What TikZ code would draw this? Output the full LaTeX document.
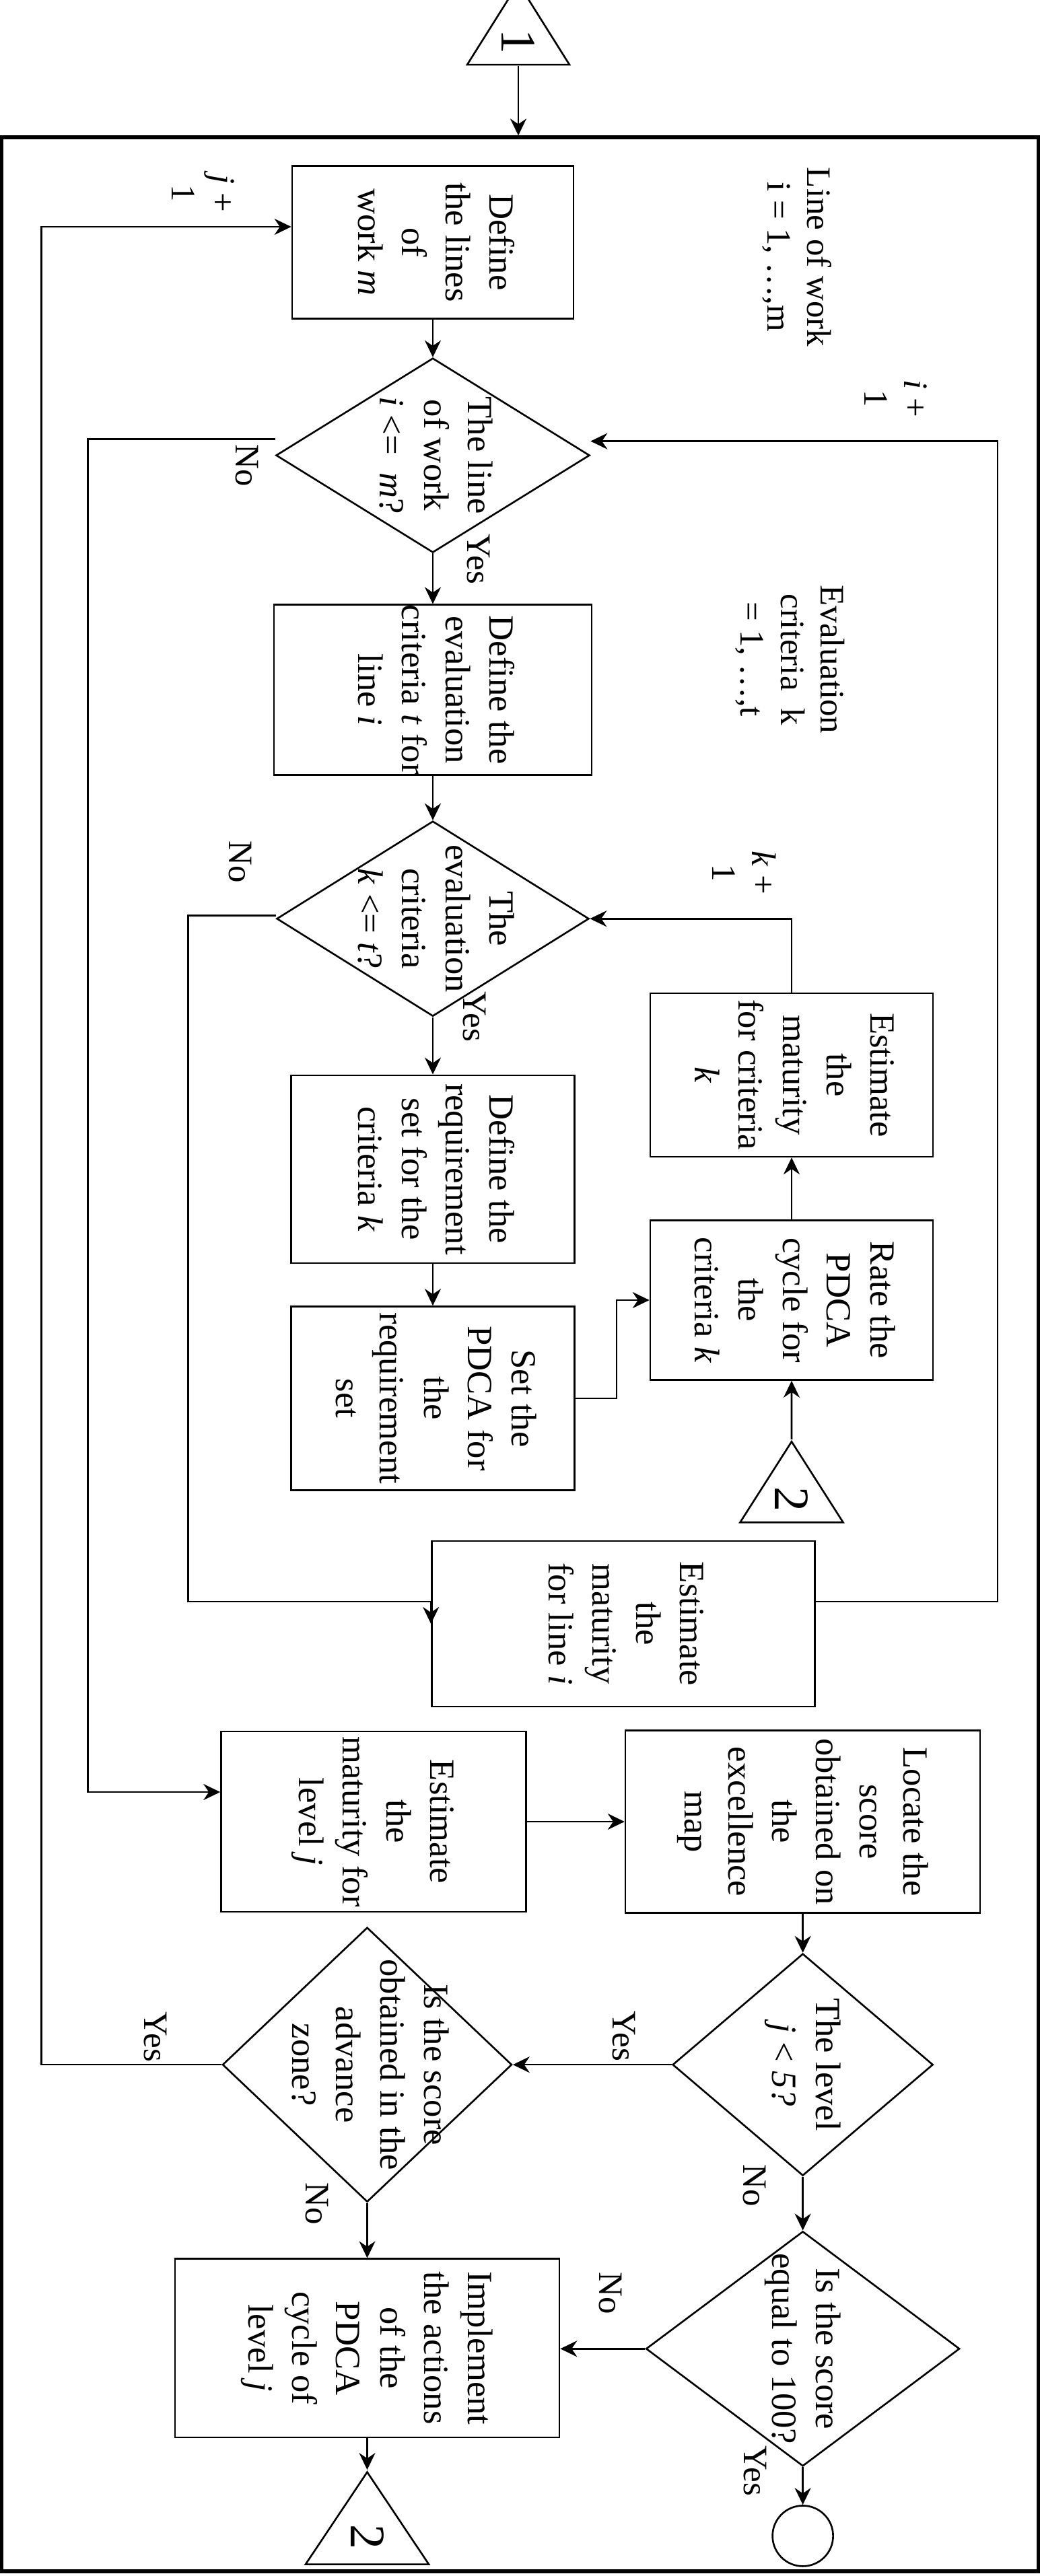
\documentclass[tikz,border=0pt]{standalone}
\usepackage{fontspec}
\setmainfont{Liberation Serif}
\usetikzlibrary{positioning, shapes.geometric, arrows.meta}

\newcommand{\vtxt}[1]{\rotatebox{-90}{\begin{tabular}{@{}c@{}}#1\end{tabular}}}

\begin{document}
\begin{tikzpicture}[
        line width = .75pt,
        font = \fontsize{15}{18.5}\selectfont,
        >={Stealth[length=2.5mm, width=2.4mm]},
        box/.style = {rectangle, draw, inner sep=0pt},
        decision/.style = {diamond, draw, inner sep=0pt},
        link/.style = {isosceles triangle, isosceles triangle stretches, shape border rotate=90, draw, inner sep=0pt, font=\fontsize{21}{21}\selectfont},
        term/.style = {circle, draw, minimum size=.9cm, inner sep=0pt},
        note/.style = {inner sep=0pt, font=\fontsize{14.5}{17}\selectfont}
    ]
        \useasboundingbox (0,0) rectangle (15.45,-38.28);

        % Frame and entry connector
        \node[draw, line width=1.5pt, minimum width=15.40cm, minimum height=36.17cm] (frame) at (7.725,-20.125) {};
        \node[link, minimum width=1.52cm, minimum height=1.21cm] (t1) at (7.70,-0.62) {\rotatebox{-90}{1}};

        % Lines of work
        \node[box, minimum width=4.18cm, minimum height=2.27cm] (b1) at (6.43,-3.60) {\vtxt{Define\\ the lines\\ of\\ work \textit{m}}};
        \node[decision, minimum width=4.66cm, minimum height=2.89cm, below=.56cm of b1,
            label=center:{\vtxt{The line\\ of work\\ \textit{i} <=~ \textit{m}?}}] (d1) {};
        \node[box, minimum width=4.72cm, minimum height=2.49cm, below=.75cm of d1] (b2) {\vtxt{Define the\\ evaluation\\ criteria \textit{t} for\\ line \textit{i}}};

        % Evaluation criteria
        \node[decision, minimum width=4.64cm, minimum height=2.90cm, below=.66cm of b2,
            label=center:{\vtxt{The\\ evaluation\\ criteria\\ \textit{k} <= \textit{t}?}}] (d2) {};
        \node[box, minimum width=4.21cm, minimum height=2.79cm, below=.85cm of d2] (b3) {\vtxt{Define the\\ requirement\\ set for the\\ criteria \textit{k}}};
        \node[box, minimum width=4.21cm, minimum height=2.73cm, below=.62cm of b3] (b4) {\vtxt{Set the\\ PDCA for\\ the\\ requirement\\ set}};
        \node[box, minimum width=4.20cm, minimum height=2.37cm] (b5) at (11.76,-19.32) {\vtxt{Rate the\\ PDCA\\ cycle for\\ the\\ criteria \textit{k}}};
        \node[box, minimum width=4.20cm, minimum height=2.43cm, above=.92cm of b5] (b6) {\vtxt{Estimate\\ the\\ maturity\\ for criteria\\ \textit{k}}};
        \node[link, minimum width=1.53cm, minimum height=1.20cm, below=.87cm of b5] (t2) {\rotatebox{-90}{2}};
        \node[box, minimum width=5.69cm, minimum height=2.46cm] (b7) at (9.26,-24.13) {\vtxt{Estimate\\ the\\ maturity\\ for line \textit{i}}};

        % Levels
        \node[box, minimum width=4.53cm, minimum height=2.68cm] (b8) at (5.55,-27.07) {\vtxt{Estimate\\ the\\ maturity for\\ level \textit{j}}};
        \node[box, minimum width=5.27cm, minimum height=2.71cm, right=1.45cm of b8] (b9) {\vtxt{Locate the\\ score\\ obtained on\\ the\\ excellence\\ map}};
        \node[decision, minimum width=3.87cm, minimum height=3.30cm, below=.58cm of b9,
            label=center:{\vtxt{The level\\ \textit{j} < \textit{5?}}}] (d3) {};
        \node[decision, minimum width=4.66cm, minimum height=3.49cm, below=.80cm of d3,
            label=center:{\vtxt{Is the score\\ equal to 100?}}] (d5) {};
        \node[term, below=.56cm of d5] (fin) {};
        \node[decision, minimum width=4.30cm, minimum height=4.08cm, left=2.36cm of d3,
            label=center:{\vtxt{Is the score\\ obtained in the\\ advance\\ zone?}}] (d4) {};
        \node[box, minimum width=5.71cm, minimum height=2.65cm, below=.82cm of d4] (b10) {\vtxt{Implement\\ the actions\\ of the\\ PDCA\\ cycle of\\ level \textit{j}}};
        \node[link, minimum width=1.83cm, minimum height=1.37cm, below=.47cm of b10] (t3) {\rotatebox{-90}{2}};

        % Notes
        \node[note] (jplus) at (2.97,-2.87) {\vtxt{\textit{j} +\\ 1}};
        \node[note] (linework) at (11.82,-3.82) {\vtxt{Line of work\\ i = 1, …,m}};
        \node[note] (iplus) at (13.26,-5.92) {\vtxt{\textit{i} +\\ 1}};
        \node[note] (evalcrit) at (11.72,-9.80) {\vtxt{Evaluation\\ criteria~ k\\ = 1, …,t}};
        \node[note] (kplus) at (11.00,-12.97) {\vtxt{\textit{k} +\\ 1}};
        \node[note] (no1) at (3.62,-6.92) {\vtxt{No}};
        \node[note] (yes1) at (7.06,-8.31) {\vtxt{Yes}};
        \node[note] (no2) at (3.52,-12.81) {\vtxt{No}};
        \node[note] (yes2) at (7.00,-15.11) {\vtxt{Yes}};
        \node[note] (yes3) at (9.22,-30.26) {\vtxt{Yes}};
        \node[note] (no3) at (11.16,-32.48) {\vtxt{No}};
        \node[note] (yes4) at (2.26,-30.27) {\vtxt{Yes}};
        \node[note] (no4) at (4.66,-32.75) {\vtxt{No}};
        \node[note] (no5) at (9.02,-34.08) {\vtxt{No}};
        \node[note] (yes5) at (11.17,-36.72) {\vtxt{Yes}};

        % Arrows
        \draw[->] (t1.south) -- (t1.south |- frame.north);
        \draw[->] (b1) -- (d1);
        \draw[->] (d1) -- (b2);
        \draw[->] (b2) -- (d2);
        \draw[->] (d2) -- (b3);
        \draw[->] (b3) -- (b4);
        \draw[->] (b4.east) -- ++(.61,0) |- (b5.west);
        \draw[->] (t2.apex) -- (b5.south);
        \draw[->] (b5) -- (b6);
        \draw[->] (b6.north) |- (d2.east);
        \draw[->] ([yshift=.33cm]b7.east) -- ++(2.7,0) |- ([yshift=.21cm]d1.east);
        \draw[->] ([yshift=.05cm]d2.west) -- ++(-1.30,0) |- ([yshift=.33cm]b7.west) -- (b7.west);
        \draw[->] ([yshift=.24cm]d1.west) -- ++(-2.78,0) |- ([yshift=.44cm]b8.west);
        \draw[->] (b8) -- (b9);
        \draw[->] (b9) -- (d3);
        \draw[->] (d3) -- (d4);
        \draw[->] (d3) -- (d5);
        \draw[->] (d5) -- (fin);
        \draw[->] (d5.west) -- (d5.west -| b10.east);
        \draw[->] (d4) -- (b10);
        \draw[->] (b10.south) -- (t3.apex);
        \draw[->] (d4.west) -- ++(-2.68,0) |- ([yshift=.23cm]b1.west);
    \end{tikzpicture}
\end{document}
